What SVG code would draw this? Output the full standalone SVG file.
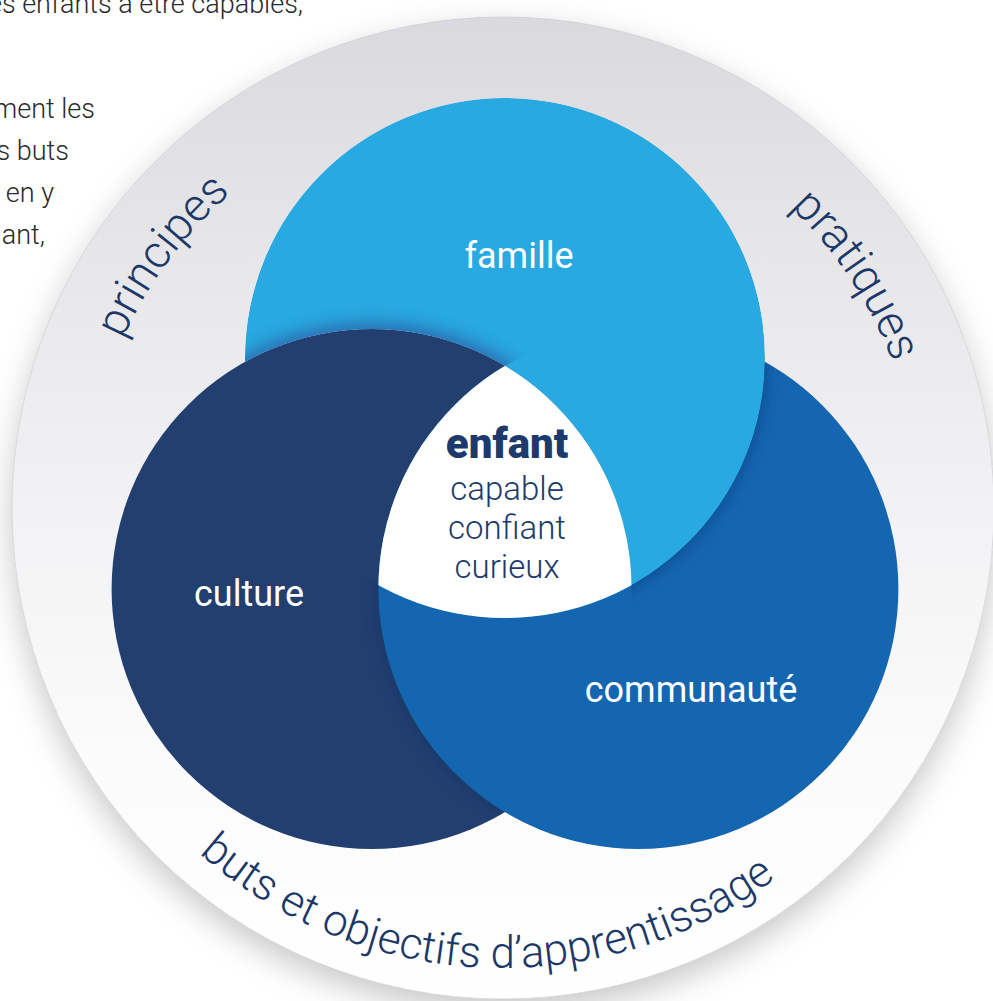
<svg xmlns="http://www.w3.org/2000/svg" width="993" height="1001" viewBox="0 0 993 1001">
<defs>
<style>
.bg{font-family:"Roboto","Liberation Sans",sans-serif;font-weight:300;font-size:27px;fill:#2a2a2a;text-anchor:end}
.lbl{font-family:"Roboto","Liberation Sans",sans-serif;font-size:36px;fill:#ffffff;text-anchor:middle}
.ring{font-family:"Roboto","Liberation Sans",sans-serif;font-weight:300;fill:#1b3868}
.ctr{font-family:"Roboto","Liberation Sans",sans-serif;fill:#1c3a6b;text-anchor:middle}
</style>
<linearGradient id="ringGrad" x1="0" y1="0" x2="0" y2="1">
<stop offset="0" stop-color="#dadade"/>
<stop offset="0.25" stop-color="#e7e7ea"/>
<stop offset="0.5" stop-color="#f2f2f4"/>
<stop offset="0.75" stop-color="#fbfbfc"/>
<stop offset="1" stop-color="#ffffff"/>
</linearGradient>
<filter id="outerShadow" x="-20%" y="-20%" width="140%" height="140%">
<feDropShadow dx="0" dy="12" stdDeviation="16" flood-color="#000" flood-opacity="0.22"/>
</filter>
<filter id="soft" x="-20%" y="-20%" width="140%" height="140%">
<feGaussianBlur stdDeviation="9"/>
</filter>
<clipPath id="clipF"><circle cx="505" cy="358" r="260"/></clipPath>
<clipPath id="clipCo"><circle cx="638.4" cy="589" r="260"/></clipPath>
<clipPath id="clipCu"><circle cx="371.6" cy="589" r="260"/></clipPath>
<mask id="mFam" maskUnits="userSpaceOnUse" x="0" y="0" width="993" height="1001">
<circle cx="505" cy="358" r="260" fill="#fff"/>
<circle cx="371.6" cy="589" r="260" fill="#000"/>
<g clip-path="url(#clipCu)"><circle cx="638.4" cy="589" r="260" fill="#fff"/></g>
</mask>
<mask id="mShF" maskUnits="userSpaceOnUse" x="0" y="0" width="993" height="1001">
<circle cx="505" cy="358" r="260" fill="#fff"/>
<circle cx="371.6" cy="589" r="260" fill="#000"/>
<circle cx="638.4" cy="589" r="260" fill="#000"/>
</mask>
<mask id="mConotCu" maskUnits="userSpaceOnUse" x="0" y="0" width="993" height="1001">
<circle cx="638.4" cy="589" r="260" fill="#fff"/><circle cx="371.6" cy="589" r="260" fill="#000"/>
</mask>
<mask id="mCunotF" maskUnits="userSpaceOnUse" x="0" y="0" width="993" height="1001">
<circle cx="371.6" cy="589" r="260" fill="#fff"/><circle cx="505" cy="358" r="260" fill="#000"/>
</mask>
<path id="arcTop" d="M142.7,716 A416,416 0 1,1 863.3,716"/>
<path id="arcBot" d="M50,588 A460,460 0 0,0 956,588"/>
</defs>

<rect x="0" y="0" width="993" height="1001" fill="#ffffff"/>

<g id="page-text">
<text class="bg" x="303" y="13">es enfants à être capables,</text>
<text class="bg" x="95" y="118">ment les</text>
<text class="bg" x="69" y="160">s buts</text>
<text class="bg" x="54" y="202">en y</text>
<text class="bg" x="45" y="244">ant,</text>
</g>

<g id="outer-ring">
<circle cx="503" cy="508" r="491" fill="url(#ringGrad)" filter="url(#outerShadow)"/>
<circle cx="503" cy="508" r="491" fill="none" stroke="#c4c4c9" stroke-width="0.8" stroke-opacity="0.7"/>
<text class="ring" font-size="46"><textPath href="#arcTop" startOffset="483" text-anchor="middle">principes</textPath></text>
<text class="ring" font-size="46"><textPath href="#arcTop" startOffset="1282" text-anchor="middle">pratiques</textPath></text>
<text class="ring" font-size="44"><textPath href="#arcBot" startOffset="622" text-anchor="middle">buts et objectifs d’apprentissage</textPath></text>
</g>

<g id="culture">
<circle cx="371.6" cy="589" r="260" fill="#223f70"/>
<text class="lbl" x="249" y="606">culture</text>
</g>

<g id="communaute">
<g mask="url(#mCunotF)"><circle cx="638.4" cy="589" r="260" fill="#0d2a55" opacity="0.4" filter="url(#soft)"/></g>
<circle cx="638.4" cy="589" r="260" fill="#1566b1"/>
<text class="lbl" x="691" y="702">communauté</text>
</g>

<g id="famille">
<g mask="url(#mConotCu)"><circle cx="505" cy="358" r="260" fill="#0a2e66" opacity="0.55" filter="url(#soft)"/></g>
<circle cx="505" cy="358" r="260" fill="#29a9e1" mask="url(#mFam)"/>
<g mask="url(#mShF)"><circle cx="371.6" cy="586" r="262" fill="#2a4f99" opacity="0.75" filter="url(#soft)"/></g>
<text class="lbl" x="519" y="268">famille</text>
</g>

<g id="enfant">
<g clip-path="url(#clipF)"><g clip-path="url(#clipCo)"><circle cx="371.6" cy="589" r="260" fill="#ffffff"/></g></g>
<text class="ctr" x="507" y="458" font-size="42" font-weight="900">enfant</text>
<text class="ctr" x="507" y="500" font-size="33" font-weight="300">capable</text>
<text class="ctr" x="507" y="539" font-size="33" font-weight="300">confiant</text>
<text class="ctr" x="507" y="578" font-size="33" font-weight="300">curieux</text>
</g>

<g id="connectors"/>
</svg>
